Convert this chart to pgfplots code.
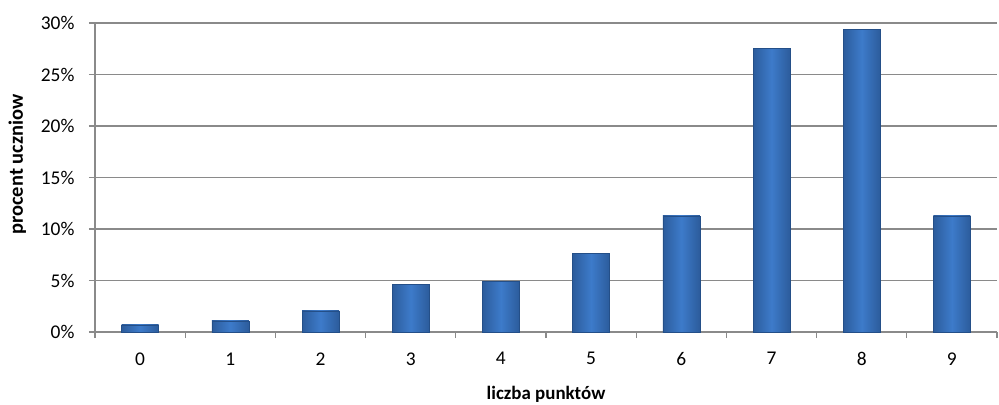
\documentclass[border=0pt]{standalone}
\usepackage{fontspec}
\setmainfont{Carlito}
\usepackage{pgfplots}
\pgfplotsset{compat=1.18}
\definecolor{barmid}{HTML}{3D7BCA}
\definecolor{baredge}{HTML}{2C5C9C}
\definecolor{barline}{HTML}{244F88}
\definecolor{gridc}{HTML}{8A8A8A}
\pgfplotsset{barstyle/.style={draw=barline, line width=0.6pt, left color=baredge, right color=baredge, middle color=barmid}}
\begin{document}
\begin{tikzpicture}
\begin{axis}[
  scale only axis,
  width=902bp, height=309bp,
  xmin=-0.5, xmax=9.5,
  ymin=0, ymax=30,
  xtick={0,...,9},
  major x tick style={draw=none},
  minor xtick={-0.5,0.5,...,9.5},
  minor x tick style={draw=gridc, line width=1.2pt},
  minor tick length=6bp,
  ytick={0,5,...,30},
  major tick length=6bp,
  y tick style={draw=gridc, line width=1.2pt},
  tick pos=left,
  tick align=outside,
  ymajorgrids,
  grid style={draw=gridc, line width=1.3pt},
  axis line style={draw=gridc, line width=1.3pt},
  axis x line*=bottom,
  axis y line*=left,
  yticklabel={\pgfmathprintnumber{\tick}\%},
  /pgf/number format/assume math mode=true,
  tick label style={font=\fontsize{19.5}{22}\selectfont, text=black},
  xticklabel style={yshift=-11bp},
  yticklabel style={xshift=-11bp},
  xlabel={\bfseries liczba punktów},
  ylabel={\bfseries procent uczniow},
  xlabel style={font=\fontsize{19}{22}\selectfont\bfseries, yshift=-13bp},
  ylabel style={font=\fontsize{20.5}{24}\selectfont\bfseries, xshift=13bp, yshift=8bp},
  ybar, bar width=37bp, bar shift=0pt,
  clip=false,
]
\addplot[barstyle] coordinates {(0,0.68)};
\addplot[barstyle] coordinates {(1,1.07)};
\addplot[barstyle] coordinates {(2,2.04)};
\addplot[barstyle] coordinates {(3,4.66)};
\addplot[barstyle] coordinates {(4,4.9)};
\addplot[barstyle] coordinates {(5,7.65)};
\addplot[barstyle] coordinates {(6,11.27)};
\addplot[barstyle] coordinates {(7,27.5)};
\addplot[barstyle] coordinates {(8,29.4)};
\addplot[barstyle] coordinates {(9,11.27)};
\end{axis}
\pgfresetboundingbox
\path[use as bounding box] ([shift={(-95bp,-73bp)}]current axis.south west) rectangle ([shift={(2bp,23bp)}]current axis.north east);
\end{tikzpicture}
\end{document}
